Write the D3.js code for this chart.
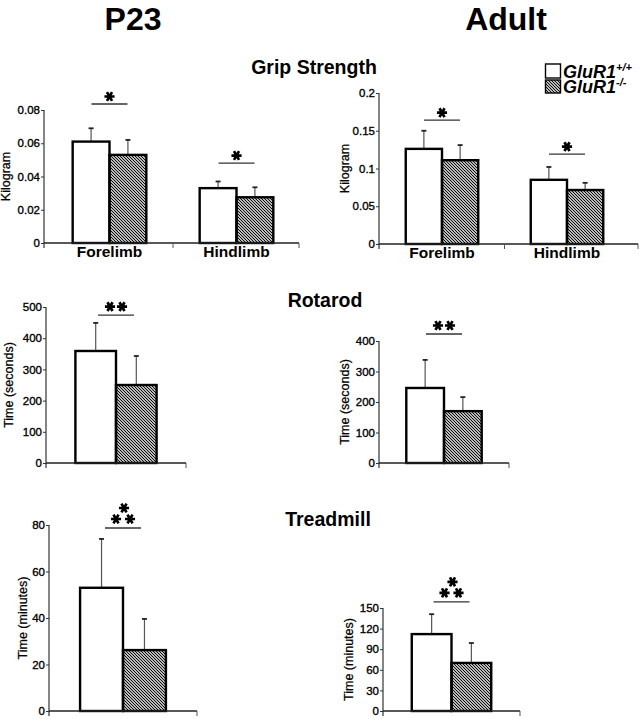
<!DOCTYPE html>
<html>
<head>
<meta charset="utf-8">
<script src="https://cdn.jsdelivr.net/npm/d3@7"></script>
<style>
  body { margin: 0; background: #fff; }
  svg { display: block; font-family: "Liberation Sans", Arial, Helvetica, sans-serif; }
</style>
</head>
<body>
<div class="figure"></div>
<script>

//// Data (mean, error = SD/SEM height above mean)

const genotypes = ['GluR1+/+', 'GluR1-/-'];
const gripCats = ['Forelimb', 'Hindlimb'];
const singleCat = [''];

const gripP23Wt = [0.061, 0.033];
const gripP23WtErr = [0.008, 0.004];
const gripP23Ko = [0.053, 0.0275];
const gripP23KoErr = [0.009, 0.006];
const gripP23Ticks = [0, 0.02, 0.04, 0.06, 0.08];
const gripP23Sig = [0.0836, 0.0481];

const gripAdWt = [0.126, 0.085];
const gripAdWtErr = [0.024, 0.017];
const gripAdKo = [0.111, 0.0715];
const gripAdKoErr = [0.020, 0.0095];
const gripAdTicks = [0, 0.05, 0.1, 0.15, 0.2];
const gripAdSig = [0.164, 0.119];

const rotP23Wt = [359];
const rotP23WtErr = [90];
const rotP23Ko = [250];
const rotP23KoErr = [93];
const rotP23Ticks = [0, 100, 200, 300, 400, 500];
const rotP23Sig = [474];

const rotAdWt = [246];
const rotAdWtErr = [92];
const rotAdKo = [170];
const rotAdKoErr = [46];
const rotAdTicks = [0, 100, 200, 300, 400];
const rotAdSig = [423];

const treadP23Wt = [53];
const treadP23WtErr = [21];
const treadP23Ko = [26.2];
const treadP23KoErr = [13.4];
const treadP23Ticks = [0, 20, 40, 60, 80];
const treadP23Sig = [78.7];

const treadAdWt = [112];
const treadAdWtErr = [29];
const treadAdKo = [70];
const treadAdKoErr = [29];
const treadAdTicks = [0, 30, 60, 90, 120, 150];
const treadAdSig = [159];

const gripStars = [1, 1];
const rotStars = [2];
const treadStars = [3];


//// Panel geometry (pixels) - kept apart from the values

const panels = [
    {cats: gripCats, wt: gripP23Wt, wtErr: gripP23WtErr, ko: gripP23Ko, koErr: gripP23KoErr,
     ticks: gripP23Ticks, sig: gripP23Sig, stars: gripStars, label: 'Kilogram',
     x0: 44, x1: 299, band: [46, 300], top: 110, bottom: 243, labelX: 6, showCats: true},
    {cats: gripCats, wt: gripAdWt, wtErr: gripAdWtErr, ko: gripAdKo, koErr: gripAdKoErr,
     ticks: gripAdTicks, sig: gripAdSig, stars: gripStars, label: 'Kilogram',
     x0: 379, x1: 638, band: [379.5, 629.5], top: 93, bottom: 244, labelX: 345, showCats: true},
    {cats: singleCat, wt: rotP23Wt, wtErr: rotP23WtErr, ko: rotP23Ko, koErr: rotP23KoErr,
     ticks: rotP23Ticks, sig: rotP23Sig, stars: rotStars, label: 'Time (seconds)',
     x0: 46, x1: 186, band: [46, 186], top: 307, bottom: 463, labelX: 9, showCats: false},
    {cats: singleCat, wt: rotAdWt, wtErr: rotAdWtErr, ko: rotAdKo, koErr: rotAdKoErr,
     ticks: rotAdTicks, sig: rotAdSig, stars: rotStars, label: 'Time (seconds)',
     x0: 379, x1: 509, band: [379, 509], top: 341, bottom: 463, labelX: 345, showCats: false},
    {cats: singleCat, wt: treadP23Wt, wtErr: treadP23WtErr, ko: treadP23Ko, koErr: treadP23KoErr,
     ticks: treadP23Ticks, sig: treadP23Sig, stars: treadStars, label: 'Time (minutes)',
     x0: 49, x1: 197, band: [49, 197], top: 525, bottom: 711, labelX: 23, showCats: false},
    {cats: singleCat, wt: treadAdWt, wtErr: treadAdWtErr, ko: treadAdKo, koErr: treadAdKoErr,
     ticks: treadAdTicks, sig: treadAdSig, stars: treadStars, label: 'Time (minutes)',
     x0: 383, x1: 520, band: [383, 520], top: 608, bottom: 711, labelX: 349, showCats: false}
];


const W = 643, H = 719;

const svg = d3.select('.figure')
    .append('svg')
    .attr('width', W)
    .attr('height', H);

// hatch fill for the knockout bars
const defs = svg.append('defs');
defs.append('pattern')
    .attr('id', 'hatch')
    .attr('patternUnits', 'userSpaceOnUse')
    .attr('width', 3)
    .attr('height', 3)
    .append('path')
    .attr('d', 'M0,0 L3,3 M-1,2 L1,4 M2,-1 L4,1')
    .style('stroke', '#000')
    .style('stroke-width', 1.05);

// headings
svg.append('text').attr('x', 133).attr('y', 30)
    .attr('text-anchor', 'middle').style('font-size', '32px').style('font-weight', 'bold')
    .text('P23');
svg.append('text').attr('x', 506).attr('y', 30)
    .attr('text-anchor', 'middle').style('font-size', '32px').style('font-weight', 'bold')
    .text('Adult');

const titles = [['Grip Strength', 314, 74], ['Rotarod', 325, 307], ['Treadmill', 328, 526]];
titles.forEach(t => {
    svg.append('text').attr('x', t[1]).attr('y', t[2])
        .attr('text-anchor', 'middle').style('font-size', '19.5px').style('font-weight', 'bold')
        .text(t[0]);
});

drawLegend(svg);
panels.forEach(p => drawPanel(svg, p));


function drawPanel(root, p){

    const x = d3.scaleBand().domain(p.cats).range(p.band);
    const y = d3.scaleLinear()
        .domain([0, d3.max(p.ticks)])
        .range([p.bottom, p.top]);
    const bw = x.bandwidth() * 0.29;

    const g = root.append('g');

    // bars: [category, genotype index, mean, err]
    const bars = [];
    p.cats.forEach((c, i) => {
        bars.push({cat: c, k: 0, v: p.wt[i], e: p.wtErr[i]});
        bars.push({cat: c, k: 1, v: p.ko[i], e: p.koErr[i]});
    });
    const cx = d => x(d.cat) + x.bandwidth() / 2;

    // error bars (upper only)
    g.selectAll('.err')
        .data(bars)
        .enter().append('line')
        .attr('class', 'err')
        .attr('x1', d => cx(d) + (d.k ? bw / 2 : -bw / 2))
        .attr('x2', d => cx(d) + (d.k ? bw / 2 : -bw / 2))
        .attr('y1', d => y(d.v))
        .attr('y2', d => y(d.v + d.e))
        .style('stroke', '#555')
        .style('stroke-width', 1.2);
    g.selectAll('.cap')
        .data(bars)
        .enter().append('line')
        .attr('class', 'cap')
        .attr('x1', d => cx(d) + (d.k ? bw / 2 : -bw / 2) - 2.5)
        .attr('x2', d => cx(d) + (d.k ? bw / 2 : -bw / 2) + 2.5)
        .attr('y1', d => y(d.v + d.e))
        .attr('y2', d => y(d.v + d.e))
        .style('stroke', '#222')
        .style('stroke-width', 1.8);

    g.selectAll('.bar')
        .data(bars)
        .enter().append('rect')
        .attr('class', 'bar')
        .attr('x', d => cx(d) - (d.k ? 0 : bw))
        .attr('y', d => y(d.v))
        .attr('width', bw)
        .attr('height', d => y(0) - y(d.v))
        .style('fill', d => d.k ? 'url(#hatch)' : '#fff')
        .style('stroke', '#000')
        .style('stroke-width', 2.4);

    // y axis
    const yAxis = d3.axisLeft(y)
        .tickValues(p.ticks)
        .tickFormat(d => String(d))
        .tickSize(3)
        .tickPadding(1);
    const ya = g.append('g')
        .attr('transform', `translate(${p.x0},0)`)
        .call(yAxis);
    ya.select('.domain').remove();
    ya.selectAll('line').style('stroke', '#333');
    ya.selectAll('text')
        .style('font-size', '11.5px')
        .style('font-family', '"Liberation Sans", Arial, sans-serif')
        .style('fill', '#000')
        .style('stroke', '#000')
        .style('stroke-width', 0.35);

    g.append('line')
        .attr('x1', p.x0).attr('x2', p.x0)
        .attr('y1', y(d3.max(p.ticks))).attr('y2', y(0) + 5)
        .style('stroke', '#333').style('stroke-width', 1.2);

    // x axis line + downward ticks at band edges
    g.append('line')
        .attr('x1', p.x0).attr('x2', p.x1)
        .attr('y1', y(0)).attr('y2', y(0))
        .style('stroke', '#222').style('stroke-width', 1.6);
    const edges = p.cats.slice(1).map(c => x(c)).concat([p.x1]);
    g.selectAll('.xtick')
        .data(edges)
        .enter().append('line')
        .attr('class', 'xtick')
        .attr('x1', d => d).attr('x2', d => d)
        .attr('y1', y(0)).attr('y2', y(0) + 5)
        .style('stroke', '#555').style('stroke-width', 1);

    if(p.showCats){
        g.selectAll('.cat')
            .data(p.cats)
            .enter().append('text')
            .attr('class', 'cat')
            .attr('x', d => x(d) + x.bandwidth() / 2)
            .attr('y', y(0) + 14)
            .attr('text-anchor', 'middle')
            .style('font-size', '15.5px')
            .style('font-weight', 'bold')
            .text(d => d);
    }

    // axis title
    g.append('text')
        .attr('transform', `translate(${p.labelX + 4},${(p.top + p.bottom) / 2}) rotate(-90)`)
        .attr('text-anchor', 'middle')
        .style('font-size', '12.5px')
        .style('stroke', '#000')
        .style('stroke-width', 0.25)
        .text(p.label);

    // significance lines and stars
    p.cats.forEach((c, i) => {
        const mx = x(c) + x.bandwidth() / 2;
        const sy = y(p.sig[i]);
        g.append('line')
            .attr('x1', mx - 18).attr('x2', mx + 18)
            .attr('y1', sy).attr('y2', sy)
            .style('stroke', '#333').style('stroke-width', 1.3);

        let pts;
        if(p.stars[i] === 1) pts = [[0, -7.5]];
        else if(p.stars[i] === 2) pts = [[-6, -8.5], [6, -8.5]];
        else pts = [[-7, -9], [7, -9], [1, -20]];

        pts.forEach(s => {
            g.append('path')
                .attr('d', d3.symbol(d3.symbolAsterisk, 72)())
                .attr('transform', `translate(${mx + s[0]},${sy + s[1]}) rotate(90)`)
                .style('fill', 'none')
                .style('stroke', '#000')
                .style('stroke-width', 2.7);
        });
    });
}


function drawLegend(root){
    const lg = root.append('g');
    const rows = [[genotypes[0], '#fff', 64, 78, '+/+'], [genotypes[1], 'url(#hatch)', 80, 93, '-/-']];
    rows.forEach(r => {
        lg.append('rect')
            .attr('x', 545.5).attr('y', r[2])
            .attr('width', 15).attr('height', r[3] - r[2])
            .style('fill', r[1])
            .style('stroke', '#000')
            .style('stroke-width', 1.4);
        const t = lg.append('text')
            .attr('x', 563).attr('y', r[3])
            .style('font-size', '18px')
            .style('font-weight', 'bold')
            .style('font-style', 'italic');
        t.append('tspan').text('GluR1');
        t.append('tspan')
            .attr('dy', -7)
            .style('font-size', '11px')
            .text(r[4]);
    });
}

</script>
</body>
</html>
